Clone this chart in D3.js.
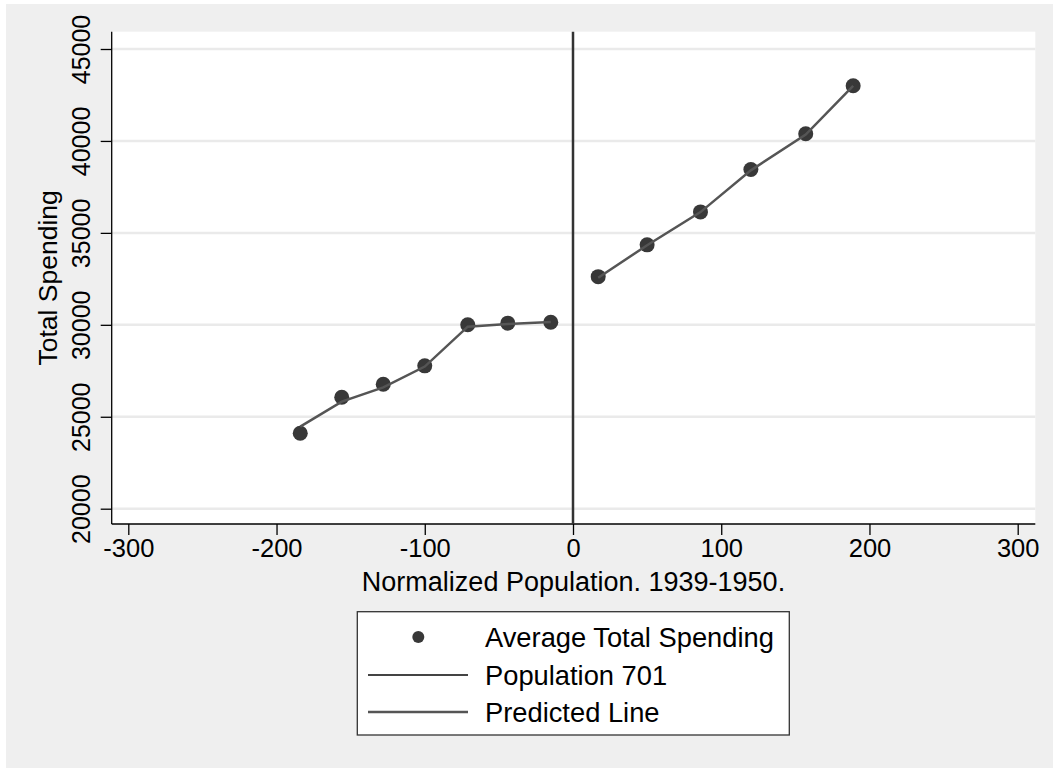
<!DOCTYPE html>
<html>
<head>
<meta charset="utf-8">
<script src="https://cdn.jsdelivr.net/npm/d3@7"></script>
<style>
    body { margin: 0; background: #ffffff; }
    text { font-family: "Liberation Sans", Arial, sans-serif; fill: #000; }
    .axis path { display: none; }
    .axis line { stroke: #000; stroke-width: 1.3; }
</style>
</head>
<body>
<div id="chart"></div>
<script>
'use strict';

// Data
const binX = [-184, -156, -128, -100, -71, -44, -15, 17, 50, 86, 120, 157, 189];
const avgSpending = [24100, 26060, 26770, 27770, 30000, 30090, 30140, 32620, 34350, 36140, 38450, 40390, 43000];
const predicted = [24460, 25820, 26600, 27730, 29900, 30050, 30160, 32560, 34330, 36130, 38400, 40350, 43000];
const cutoff = 0;
const xTicks = [-300, -200, -100, 0, 100, 200, 300];
const yTicks = [20000, 25000, 30000, 35000, 40000, 45000];
const legendLabels = ['Average Total Spending', 'Population 701', 'Predicted Line'];

class RdPlot {

    w = 1053;
    h = 769;

    constructor(_ref) {
        this.parent = _ref;
        this.initVis();
    }

    initVis() {
        const vis = this;

        vis.svg = d3.select(`#${vis.parent}`)
            .append('svg')
            .attr('width', vis.w)
            .attr('height', vis.h);

        // Outer background
        vis.svg.append('rect')
            .attr('x', 6)
            .attr('y', 4)
            .attr('width', vis.w - 6)
            .attr('height', vis.h - 5)
            .attr('fill', '#efefef');

        // Plot region
        vis.plot = {left: 111.7, right: 1035.3, top: 31.7, bottom: 524};
        vis.svg.append('rect')
            .attr('x', vis.plot.left)
            .attr('y', vis.plot.top)
            .attr('width', vis.plot.right - vis.plot.left)
            .attr('height', vis.plot.bottom - vis.plot.top)
            .attr('fill', '#fff');

        // Scales
        vis.x = d3.scaleLinear().domain([-300, 300]).range([128.3, 1017.7]);
        vis.y = d3.scaleLinear().domain([20000, 45000]).range([508.7, 49]);

        // Grid
        vis.svg.append('g')
            .selectAll('line')
            .data(yTicks)
            .join('line')
            .attr('x1', vis.plot.left)
            .attr('x2', vis.plot.right)
            .attr('y1', d => vis.y(d))
            .attr('y2', d => vis.y(d))
            .attr('stroke', '#eaeaea')
            .attr('stroke-width', 2.5);

        vis.drawAxes();
        vis.drawMarks();
        vis.drawLegend();
    }

    drawAxes() {
        const vis = this;

        // Plain hyphen for negatives, like the reference
        const fmt = d => String(d);

        // Y axis
        const yAxis = vis.svg.append('g')
            .attr('class', 'axis')
            .attr('transform', `translate(${vis.plot.left},0)`)
            .call(d3.axisLeft(vis.y).tickValues(yTicks).tickSize(11).tickFormat(fmt));
        yAxis.selectAll('text')
            .attr('x', null)
            .attr('dy', null)
            .attr('text-anchor', 'middle')
            .attr('transform', 'translate(-22,0) rotate(-90)')
            .style('font-size', '25px');

        // X axis
        const xAxis = vis.svg.append('g')
            .attr('class', 'axis')
            .attr('transform', `translate(0,${vis.plot.bottom})`)
            .call(d3.axisBottom(vis.x).tickValues(xTicks).tickSize(11).tickFormat(fmt));
        xAxis.selectAll('text')
            .attr('y', 33)
            .attr('dy', null)
            .style('font-size', '25.5px');

        // Axis lines
        vis.svg.append('line')
            .attr('x1', vis.plot.left).attr('x2', vis.plot.left)
            .attr('y1', vis.plot.top).attr('y2', vis.plot.bottom)
            .attr('stroke', '#000').attr('stroke-width', 1.3);
        vis.svg.append('line')
            .attr('x1', vis.plot.left).attr('x2', vis.plot.right)
            .attr('y1', vis.plot.bottom).attr('y2', vis.plot.bottom)
            .attr('stroke', '#000').attr('stroke-width', 1.3);

        // Titles
        vis.svg.append('text')
            .attr('transform', `translate(57,${(vis.plot.top + vis.plot.bottom) / 2}) rotate(-90)`)
            .attr('text-anchor', 'middle')
            .style('font-size', '26.5px')
            .text('Total Spending');
        vis.svg.append('text')
            .attr('x', (vis.plot.left + vis.plot.right) / 2)
            .attr('y', 591)
            .attr('text-anchor', 'middle')
            .style('font-size', '27px')
            .text('Normalized Population. 1939-1950.');
    }

    drawMarks() {
        const vis = this;

        const pts = binX.map((d, i) => ({x: d, avg: avgSpending[i], pred: predicted[i]}));

        // Cutoff line
        vis.svg.append('line')
            .attr('x1', vis.x(cutoff)).attr('x2', vis.x(cutoff))
            .attr('y1', vis.plot.top).attr('y2', vis.plot.bottom)
            .attr('stroke', '#333').attr('stroke-width', 2.5);

        // Points
        vis.svg.append('g')
            .selectAll('circle')
            .data(pts)
            .join('circle')
            .attr('cx', d => vis.x(d.x))
            .attr('cy', d => vis.y(d.avg))
            .attr('r', 7.5)
            .attr('fill', '#383838');

        // Predicted line, one piece each side of the cutoff
        const line = d3.line().x(d => vis.x(d.x)).y(d => vis.y(d.pred));
        [pts.filter(d => d.x < cutoff), pts.filter(d => d.x >= cutoff)].forEach(seg => {
            vis.svg.append('path')
                .attr('d', line(seg))
                .attr('fill', 'none')
                .attr('stroke', '#555')
                .attr('stroke-width', 2.5);
        });
    }

    drawLegend() {
        const vis = this;

        const box = {x: 357.3, y: 611.7, w: 432, h: 123.3};
        const g = vis.svg.append('g').attr('class', 'legend');
        g.append('rect')
            .attr('x', box.x).attr('y', box.y)
            .attr('width', box.w).attr('height', box.h)
            .attr('fill', '#fff')
            .attr('stroke', '#333')
            .attr('stroke-width', 1.3);

        const rowY = [637, 675, 712];
        g.append('circle')
            .attr('cx', 418.3).attr('cy', rowY[0])
            .attr('r', 6)
            .attr('fill', '#383838');
        g.append('line')
            .attr('x1', 368).attr('x2', 468)
            .attr('y1', rowY[1]).attr('y2', rowY[1])
            .attr('stroke', '#444').attr('stroke-width', 2.2);
        g.append('line')
            .attr('x1', 368).attr('x2', 468)
            .attr('y1', rowY[2]).attr('y2', rowY[2])
            .attr('stroke', '#555').attr('stroke-width', 2.5);

        g.selectAll('text.lab')
            .data(legendLabels)
            .join('text')
            .attr('class', 'lab')
            .attr('x', 485)
            .attr('y', (d, i) => rowY[i])
            .attr('dy', '0.35em')
            .style('font-size', '27.3px')
            .text(d => d);
    }
}

new RdPlot('chart');
</script>
</body>
</html>
